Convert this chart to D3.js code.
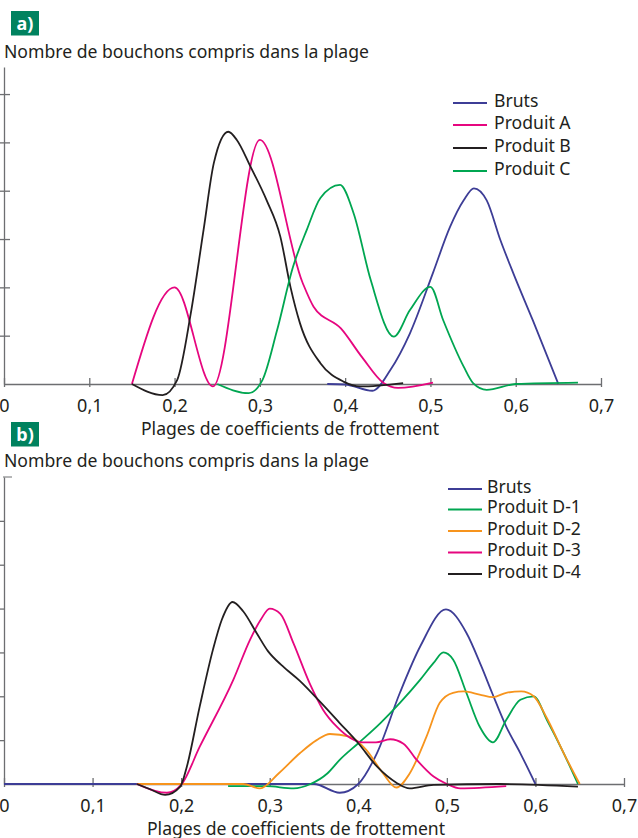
<!DOCTYPE html>
<html>
<head>
<meta charset="utf-8">
<script src="https://cdn.jsdelivr.net/npm/d3@7"></script>
<style>
    body { margin: 0; background: #fff; }
    svg { display: block; }
    text { font-family: "Noto Sans", sans-serif; fill: #231f20; }
</style>
</head>
<body>
<div class="chart"></div>
<script>
// x ticks shared by both panels
var xTicks = [0, 0.1, 0.2, 0.3, 0.4, 0.5, 0.6, 0.7];
var xTickLabels = ['0', '0,1', '0,2', '0,3', '0,4', '0,5', '0,6', '0,7'];
var yTicksA = [1, 2, 3, 4, 5, 6];
var yTicksB = [1, 2, 3, 4, 5, 6];

var yTitle = 'Nombre de bouchons compris dans la plage';
var xTitle = 'Plages de coefficients de frottement';

// panel a) - [coefficient, count]
var brutsA = [[0.379, 0], [0.40, -0.01], [0.432, -0.14], [0.453, 0.29], [0.476, 1.05], [0.503, 2.3],
    [0.523, 3.25], [0.539, 3.8], [0.551, 4.05], [0.566, 3.8], [0.582, 2.98], [0.597, 2.3],
    [0.62, 1.32], [0.65, 0]];
var produitA = [[0.15, 0], [0.2, 2.0], [0.245, -0.05], [0.30, 5.05], [0.35, 2.1], [0.363, 1.6],
    [0.395, 1.15], [0.42, 0.55], [0.445, 0.02], [0.462, -0.08], [0.503, 0.03]];
var produitB = [[0.15, 0], [0.186, -0.23], [0.203, 0.08], [0.219, 1.46], [0.234, 3.19], [0.246, 4.57],
    [0.263, 5.22], [0.273, 5.05], [0.289, 4.5], [0.308, 3.8], [0.324, 3.05], [0.336, 2.0],
    [0.347, 1.26], [0.371, 0.43], [0.398, 0.05], [0.418, -0.05], [0.468, 0.02]];
var produitC = [[0.25, 0], [0.287, -0.19], [0.303, 0.08], [0.32, 1.1], [0.339, 2.43], [0.355, 3.19],
    [0.371, 3.85], [0.394, 4.12], [0.41, 3.53], [0.43, 2.15], [0.457, 0.98], [0.476, 1.53],
    [0.5, 2.01], [0.515, 1.32], [0.539, 0.36], [0.55, 0.02], [0.566, -0.12], [0.6, 0], [0.673, 0.03]];

// panel b)
var brutsB = [[0, 0], [0.35, 0], [0.379, -0.2], [0.4, 0], [0.421, 0.7], [0.447, 2.08], [0.47, 3.14],
    [0.499, 3.98], [0.522, 3.45], [0.539, 2.68], [0.551, 2.08], [0.567, 1.31], [0.583, 0.7], [0.6, 0]];
var produitD1 = [[0.253, -0.05], [0.296, -0.05], [0.327, -0.1], [0.346, 0], [0.365, 0.24], [0.379, 0.55],
    [0.4, 0.93], [0.425, 1.39], [0.447, 1.85], [0.47, 2.38], [0.485, 2.76], [0.496, 3.0], [0.507, 2.84],
    [0.522, 2.08], [0.537, 1.31], [0.552, 0.95], [0.567, 1.46], [0.583, 1.92], [0.598, 2.0],
    [0.613, 1.46], [0.632, 0.7], [0.648, 0]];
var produitD2 = [[0.15, 0], [0.27, 0], [0.289, -0.1], [0.31, 0.24], [0.334, 0.7], [0.353, 1.0],
    [0.368, 1.14], [0.39, 1.08], [0.409, 0.78], [0.428, 0.24], [0.443, -0.08], [0.458, 0.24],
    [0.477, 1.08], [0.492, 1.85], [0.507, 2.08], [0.519, 2.11], [0.537, 2.04], [0.552, 1.98],
    [0.567, 2.08], [0.584, 2.11], [0.598, 2.0], [0.613, 1.5], [0.632, 0.7], [0.65, 0]];
var produitD3 = [[0.15, 0], [0.184, -0.2], [0.2, -0.02], [0.221, 0.85], [0.259, 2.38], [0.278, 3.3],
    [0.29, 3.75], [0.3, 4.0], [0.312, 3.88], [0.327, 3.2], [0.345, 2.3], [0.36, 1.7], [0.376, 1.3],
    [0.391, 1.05], [0.405, 0.95], [0.42, 0.95], [0.436, 1.02], [0.451, 0.92], [0.466, 0.55],
    [0.485, 0.17], [0.5, 0], [0.515, -0.1], [0.567, -0.05]];
var produitD4 = [[0.15, 0], [0.165, -0.12], [0.182, -0.25], [0.199, -0.06], [0.2065, 0.4], [0.221, 1.77],
    [0.236, 3.07], [0.246, 3.75], [0.258, 4.15], [0.27, 3.94], [0.285, 3.45], [0.298, 3.03],
    [0.315, 2.68], [0.334, 2.35], [0.357, 1.87], [0.379, 1.39], [0.4, 0.93], [0.421, 0.4],
    [0.443, 0.03], [0.458, -0.1], [0.485, -0.02], [0.56, 0], [0.648, -0.06]];

var colors = {
    bruts: '#3d3d96',
    pink: '#e6067f',
    black: '#231f20',
    green: '#00a651',
    orange: '#f7941d'
};

var width = 638;
var height = 838;

var svg = d3.select('.chart')
    .append('svg')
    .attr('width', width)
    .attr('height', height);

/**
 * Panel a)
 */
drawPanel({
    label: 'a)',
    labelY: 11,
    titleY: 58,
    xRange: [4, 601],
    yDomainTop: 6.56,
    yRange: [384, 67],
    yTicks: yTicksA,
    yTickLeft: -4,
    yTickRight: 6,
    topCap: false,
    xTitleX: 290,
    xTitleY: 435,
    series: [
        { data: brutsA, color: colors.bruts },
        { data: produitA, color: colors.pink },
        { data: produitB, color: colors.black },
        { data: produitC, color: colors.green }
    ],
    legend: {
        x1: 453, x2: 487, tx: 494,
        rows: [103, 125, 148, 171],
        items: [
            { name: 'Bruts', color: colors.bruts },
            { name: 'Produit A', color: colors.pink },
            { name: 'Produit B', color: colors.black },
            { name: 'Produit C', color: colors.green }
        ]
    }
});

/**
 * Panel b)
 */
drawPanel({
    label: 'b)',
    labelY: 422,
    titleY: 467,
    xRange: [4, 624],
    yDomainTop: 7,
    yRange: [784, 477],
    yTicks: yTicksB,
    yTickLeft: -4,
    yTickRight: 0,
    topCap: true,
    xTitleX: 296,
    xTitleY: 835,
    series: [
        { data: brutsB, color: colors.bruts },
        { data: produitD1, color: colors.green },
        { data: produitD2, color: colors.orange },
        { data: produitD3, color: colors.pink },
        { data: produitD4, color: colors.black }
    ],
    legend: {
        x1: 448, x2: 482, tx: 487,
        rows: [489, 509.5, 531, 552.5, 574],
        items: [
            { name: 'Bruts', color: colors.bruts },
            { name: 'Produit D-1', color: colors.green },
            { name: 'Produit D-2', color: colors.orange },
            { name: 'Produit D-3', color: colors.pink },
            { name: 'Produit D-4', color: colors.black }
        ]
    }
});


function drawPanel(cfg) {
    var g = svg.append('g');

    var xScale = d3.scaleLinear()
        .domain([0, 0.7])
        .range(cfg.xRange);
    var yScale = d3.scaleLinear()
        .domain([0, cfg.yDomainTop])
        .range(cfg.yRange);

    // green label box
    g.append('rect')
        .attr('x', 11)
        .attr('y', cfg.labelY)
        .attr('width', 28)
        .attr('height', 24.5)
        .style('fill', '#00825f');
    g.append('text')
        .attr('x', 25)
        .attr('y', cfg.labelY + 18.5)
        .style('text-anchor', 'middle')
        .style('font-weight', 'bold')
        .style('font-size', '18px')
        .style('fill', '#fff')
        .text(cfg.label);

    // y title
    g.append('text')
        .attr('x', 4)
        .attr('y', cfg.titleY)
        .style('font-size', '17.6px')
        .text(yTitle);

    // y axis: line + ticks, no labels
    var yAxis = d3.axisLeft(yScale)
        .tickValues(cfg.yTicks)
        .tickFormat('')
        .tickSizeOuter(0);
    var yg = g.append('g')
        .attr('transform', 'translate(' + cfg.xRange[0] + ',0)')
        .call(yAxis);
    yg.selectAll('.tick line')
        .attr('x1', cfg.yTickLeft)
        .attr('x2', cfg.yTickRight);
    if (cfg.topCap) {
        yg.append('line')
            .attr('x1', -1)
            .attr('x2', 8)
            .attr('y1', yScale(cfg.yDomainTop))
            .attr('y2', yScale(cfg.yDomainTop))
            .attr('stroke', 'currentColor');
    }

    // x axis
    var xAxis = d3.axisBottom(xScale)
        .tickValues(xTicks)
        .tickFormat((d, i) => xTickLabels[i])
        .tickSizeOuter(0);
    var xg = g.append('g')
        .attr('transform', 'translate(0,' + yScale(0) + ')')
        .call(xAxis);
    xg.selectAll('.tick line')
        .attr('y1', -6)
        .attr('y2', 3);
    xg.selectAll('.tick text')
        .attr('y', 0)
        .attr('dy', 28)
        .style('font-size', '18px')
        .style('font-family', '"Noto Sans", sans-serif')
        .style('fill', '#231f20');

    [yg, xg].forEach(a => {
        a.attr('color', '#6d6e71');
        a.select('.domain').attr('stroke-width', 1.3);
        a.selectAll('.tick line').attr('stroke-width', 1.3);
    });

    // x title
    g.append('text')
        .attr('x', cfg.xTitleX)
        .attr('y', cfg.xTitleY)
        .style('text-anchor', 'middle')
        .style('font-size', '17.6px')
        .text(xTitle);

    // curves
    var line = d3.line()
        .x(d => xScale(d[0]))
        .y(d => yScale(d[1]))
        .curve(d3.curveMonotoneX);

    g.selectAll('.serie')
        .data(cfg.series)
        .enter()
        .append('path')
        .attr('class', 'serie')
        .attr('d', d => line(d.data))
        .style('fill', 'none')
        .style('stroke', d => d.color)
        .style('stroke-width', 1.8);

    // legend
    var lg = g.selectAll('.leg')
        .data(cfg.legend.items)
        .enter()
        .append('g')
        .attr('class', 'leg')
        .attr('transform', (d, i) => 'translate(0,' + cfg.legend.rows[i] + ')');
    lg.append('line')
        .attr('x1', cfg.legend.x1)
        .attr('x2', cfg.legend.x2)
        .style('stroke', d => d.color)
        .style('stroke-width', 2.2);
    lg.append('text')
        .attr('x', cfg.legend.tx)
        .attr('y', 3.5)
        .style('font-size', '17.6px')
        .text(d => d.name);
}
</script>
</body>
</html>
